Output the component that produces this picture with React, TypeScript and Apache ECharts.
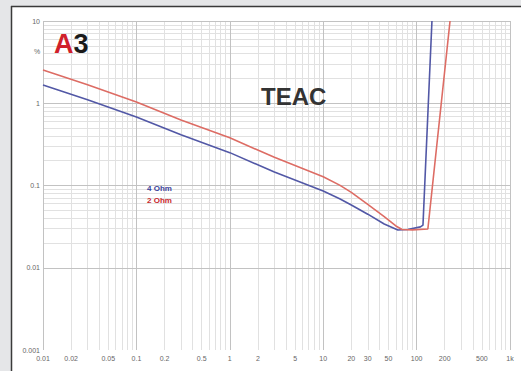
import React, { useEffect, useRef } from "react";
import * as echarts from "echarts";

const xTickValues = [0.01, 0.02, 0.05, 0.1, 0.2, 0.5, 1, 2, 5, 10, 20, 30, 50, 100, 200, 500, 1000];
const xTickLabels = ["0.01", "0.02", "0.05", "0.1", "0.2", "0.5", "1", "2", "5", "10", "20", "30", "50", "100", "200", "500", "1k"];
const yTickValues = [0.001, 0.01, 0.1, 1, 10];
const yTickLabels = ["0.001", "0.01", "0.1", "1", "10"];

const ohm4Power = [0.01, 0.03, 0.1, 0.3, 1, 3, 10, 15, 20, 30, 45, 63, 80, 110, 117, 146];
const ohm4Thd = [1.67, 1.1, 0.68, 0.413, 0.251, 0.146, 0.0857, 0.0689, 0.058, 0.0448, 0.034, 0.0288, 0.0292, 0.0314, 0.033, 10];
const ohm2Power = [0.01, 0.03, 0.1, 0.3, 1, 3, 10, 15, 20, 30, 45, 60, 70, 90, 132, 228];
const ohm2Thd = [2.54, 1.68, 1.035, 0.626, 0.38, 0.22, 0.128, 0.101, 0.0826, 0.059, 0.0419, 0.0322, 0.0292, 0.0289, 0.0296, 10];

const decadesX = [0.01, 0.1, 1, 10, 100, 1000];
const decadesY = [0.001, 0.01, 0.1, 1, 10];
const minorSteps = [2, 3, 4, 5, 6, 7, 8, 9];

function labelFor(values: number[], labels: string[], v: number) {
  let best = 0;
  let bd = Infinity;
  values.forEach((t, i) => {
    const d = Math.abs(Math.log10(t) - Math.log10(v));
    if (d < bd) { bd = d; best = i; }
  });
  return labels[best];
}

export default function App() {
  const ref = useRef<HTMLDivElement>(null);
  useEffect(() => {
    if (!ref.current) return;
    const chart = echarts.init(ref.current, undefined, { renderer: "svg" });
    const minorX: number[] = [];
    decadesX.slice(0, -1).forEach((d) => minorSteps.forEach((m) => minorX.push(+(d * m).toPrecision(6))));
    const minorY: number[] = [];
    decadesY.slice(0, -1).forEach((d) => minorSteps.forEach((m) => minorY.push(+(d * m).toPrecision(6))));
    const lineStyleMinor = { color: "#e1e1e1", width: 1, type: "solid" as const };
    const lineStyleMajor = { color: "#c2c2c2", width: 1, type: "solid" as const };
    const gridData: any[] = [
      ...minorX.map((v) => ({ xAxis: v, lineStyle: lineStyleMinor })),
      ...minorY.map((v) => ({ yAxis: v, lineStyle: lineStyleMinor })),
      ...decadesX.map((v) => ({ xAxis: v, lineStyle: lineStyleMajor })),
      ...decadesY.map((v) => ({ yAxis: v, lineStyle: lineStyleMajor })),
    ];
    chart.setOption({
      animation: false,
      backgroundColor: "#e5e6e8",
      graphic: [
        { type: "rect", shape: { x: 11, y: 6, width: 510, height: 365 }, style: { fill: "#ffffff" }, z: -10 },
        { type: "line", shape: { x1: 11.5, y1: 6, x2: 11.5, y2: 371 }, style: { stroke: "#3a3a3a", lineWidth: 1.5 }, z: -9 },
        { type: "line", shape: { x1: 11, y1: 6.5, x2: 521, y2: 6.5 }, style: { stroke: "#3a3a3a", lineWidth: 1.5 }, z: -9 },
        {
          type: "text", x: 54, y: 30, z: 10,
          style: {
            text: "{a|A}{b|3}",
            rich: {
              a: { fill: "#d0202a", fontSize: 27, fontWeight: 900, fontFamily: "Liberation Sans" },
              b: { fill: "#1a1a1a", fontSize: 27, fontWeight: 900, fontFamily: "Liberation Sans" },
            },
          },
        },
        {
          type: "text", x: 261, y: 84, z: 10,
          style: { text: "TEAC", fill: "#333333", fontSize: 24, fontWeight: "bold", fontFamily: "Liberation Sans" },
        },
        {
          type: "text", x: 34, y: 48, z: 10,
          style: { text: "%", fill: "#666666", fontSize: 7, fontFamily: "Liberation Sans" },
        },
      ],
      legend: {
        orient: "vertical",
        left: 137,
        top: 179,
        icon: "none",
        itemWidth: 0,
        itemHeight: 0,
        itemGap: 4,
        selectedMode: false,
        data: [
          { name: "4 Ohm", textStyle: { color: "#3a3f99" } },
          { name: "2 Ohm", textStyle: { color: "#c8282e" } },
        ],
        textStyle: { fontSize: 8, fontWeight: "bold", fontFamily: "Liberation Sans", padding: 0 },
      },
      grid: { left: 43, right: 11, top: 21, bottom: 21 },
      xAxis: {
        type: "log",
        logBase: 10,
        min: 0.01,
        max: 1000,
        axisLine: { show: false },
        axisTick: { show: false },
        splitLine: { show: false },
        axisLabel: {
          customValues: xTickValues,
          formatter: (v: number) => labelFor(xTickValues, xTickLabels, v),
          fontSize: 7,
          color: "#666666",
          fontFamily: "Liberation Sans",
          margin: 5,
          hideOverlap: false,
        },
      },
      yAxis: {
        type: "log",
        logBase: 10,
        min: 0.001,
        max: 10,
        axisLine: { show: false },
        axisTick: { show: false },
        splitLine: { show: false },
        axisLabel: {
          customValues: yTickValues,
          formatter: (v: number) => labelFor(yTickValues, yTickLabels, v),
          fontSize: 7,
          color: "#666666",
          fontFamily: "Liberation Sans",
          margin: 3,
        },
      },
      series: [
        {
          name: "grid",
          type: "line",
          data: [[0.01, 0.001]],
          showSymbol: false,
          symbol: "none",
          lineStyle: { opacity: 0 },
          silent: true,
          z: 1,
          markLine: { silent: true, z: 1, symbol: "none", label: { show: false }, data: gridData, animation: false },
        },
        {
          name: "4 Ohm",
          type: "line",
          data: ohm4Power.map((p, i) => [p, ohm4Thd[i]]),
          symbol: "none",
          color: "#3a3f99",
          lineStyle: { color: "#5258a6", width: 1.6 },
          z: 6,
        },
        {
          name: "2 Ohm",
          type: "line",
          data: ohm2Power.map((p, i) => [p, ohm2Thd[i]]),
          symbol: "none",
          color: "#c8282e",
          lineStyle: { color: "#dd6c64", width: 1.6 },
          z: 6,
        },
      ],
    });
    return () => chart.dispose();
  }, []);
  return <div ref={ref} style={{ position: "fixed", left: 0, top: 0, width: 521, height: 371 }} />;
}
